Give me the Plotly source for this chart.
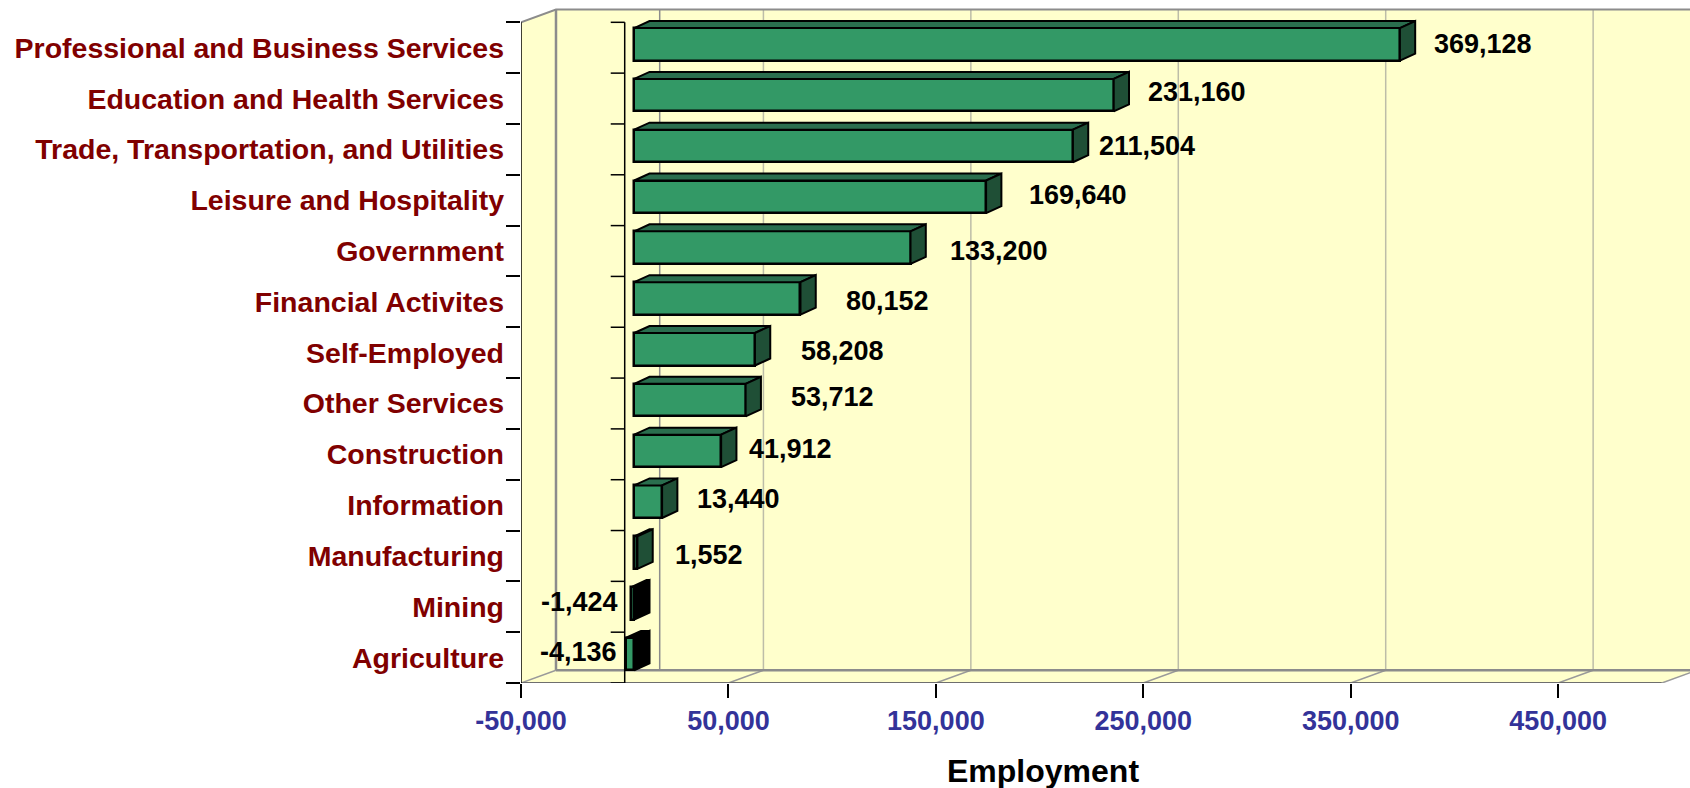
import plotly.graph_objects as go

categories = ["Agriculture", "Mining", "Manufacturing", "Information", "Construction",
              "Other Services", "Self-Employed", "Financial Activites", "Government",
              "Leisure and Hospitality", "Trade, Transportation, and Utilities",
              "Education and Health Services", "Professional and Business Services"]
values = [-4136, -1424, 1552, 13440, 41912, 53712, 58208, 80152, 133200, 169640, 211504, 231160, 369128]
tick_values = [-50000, 50000, 150000, 250000, 350000, 450000]
tick_labels = ["-50,000", "50,000", "150,000", "250,000", "350,000", "450,000"]
grid_values = [-50000, 0, 50000, 150000, 250000, 350000, 450000]

# value-label placement nudges in pixels (same order as categories)
label_dx = [3, -2, 45, 42.6, 35, 52.5, 53.2, 52.7, 47.4, 50.5, 33.7, 41.3, 41.8]
label_dy = [6, 5, 0.7, 6, 5.7, 6.6, 2, 1, 0, 5, 3.8, 7, 3.5]

W, H = 1690, 788
LEFT, BOTTOM_PX, TOP_PX = 520.6, 682.7, 4.0
PX_PER_UNIT_X = 0.002075
PX_PER_ROW = 50.8
XMIN = -50000
XEND = XMIN + (W - LEFT) / PX_PER_UNIT_X
YEND = (BOTTOM_PX - TOP_PX) / PX_PER_ROW
XFLOOR = 500000
ux = lambda px: px / PX_PER_UNIT_X
uy = lambda px: px / PX_PER_ROW

WALL_DX, WALL_DY = ux(35), uy(12.8)
BAR_DX, BAR_DY = ux(9.5), uy(3.4)
DEP_DX, DEP_DY = ux(15.3), uy(7)
BAR_H = uy(32.5)
N = len(categories)

FRONT, TOP, SIDE = "#339966", "#2A6E4E", "#1F4F36"
WALL = "#FFFFCC"

shapes = []
def poly(pts, fill=None, color=None, width=0):
    path = "M " + " L ".join(f"{x},{y}" for x, y in pts) + (" Z" if fill else "")
    shapes.append(dict(type="path", path=path, xref="x", yref="y", layer="below",
                       fillcolor=fill or "rgba(0,0,0,0)",
                       line=dict(color=color or "rgba(0,0,0,0)", width=width)))

# back wall, side wall, floor
poly([(XMIN + WALL_DX, WALL_DY), (XFLOOR + WALL_DX, WALL_DY), (XFLOOR + WALL_DX, N + WALL_DY), (XMIN + WALL_DX, N + WALL_DY)], fill=WALL)
poly([(XMIN, 0), (XMIN + WALL_DX, WALL_DY), (XMIN + WALL_DX, N + WALL_DY), (XMIN, N)], fill=WALL)
poly([(XMIN, 0), (XFLOOR, 0), (XFLOOR + WALL_DX, WALL_DY), (XMIN + WALL_DX, WALL_DY)], fill=WALL)

# wall gridlines and floor diagonals
for g in grid_values:
    col = "#8C8C8C" if g <= 0 else "#BDBDA8"
    wid = 2.5 if g == XMIN else 1.5
    poly([(g + WALL_DX, WALL_DY), (g + WALL_DX, N + WALL_DY)], color=col, width=wid)
    if g != 0:
        poly([(g, 0), (g + WALL_DX, WALL_DY)], color="#9A9A9A", width=1.5)
poly([(XMIN, N), (XMIN + WALL_DX, N + WALL_DY), (XFLOOR + WALL_DX, N + WALL_DY)], color="#8C8C8C", width=2)
poly([(XMIN + WALL_DX, WALL_DY), (XFLOOR + WALL_DX, WALL_DY)], color="#8C8C8C", width=2.5)
poly([(XMIN, 0), (XFLOOR, 0)], color="#6E6E6E", width=2)
poly([(XFLOOR, 0), (XFLOOR + WALL_DX, WALL_DY)], color="#9A9A9A", width=1.5)

# black axes on the front plane
poly([(XMIN, 0), (XMIN, N)], color="black", width=1.5)
poly([(0, 0), (0, N)], color="black", width=1.5)
for i in range(N + 1):
    poly([(-ux(14), i), (0, i)], color="black", width=1.5)

fig = go.Figure()
ys = [i + 0.5 + BAR_DY for i in range(N)]
fig.add_trace(go.Bar(y=ys, x=values, base=[BAR_DX] * N, orientation="h", width=BAR_H,
                     marker=dict(color=FRONT, line=dict(color="black", width=2.5)),
                     showlegend=False, hoverinfo="skip"))

for y, v in zip(ys, values):
    x0, x1 = BAR_DX + min(v, 0), BAR_DX + max(v, 0)
    yb, yt = y - BAR_H / 2, y + BAR_H / 2
    neg = v < 0
    fig.add_trace(go.Scatter(
        x=[x0, x1, x1 + DEP_DX, x0 + DEP_DX, x0], y=[yt, yt, yt + DEP_DY, yt + DEP_DY, yt],
        mode="lines", fill="toself", fillcolor="black" if neg else TOP,
        line=dict(color="black", width=2), showlegend=False, hoverinfo="skip", cliponaxis=False))
    fig.add_trace(go.Scatter(
        x=[x1, x1 + DEP_DX, x1 + DEP_DX, x1, x1], y=[yb, yb + DEP_DY, yt + DEP_DY, yt, yb],
        mode="lines", fill="toself", fillcolor="black" if neg else SIDE,
        line=dict(color="black", width=2), showlegend=False, hoverinfo="skip", cliponaxis=False))

annotations = []
for i, v in enumerate(values):
    annotations.append(dict(x=v, y=i + 0.5, xref="x", yref="y", text=f"{v:,}", showarrow=False,
                            xanchor="right" if v < 0 else "left", yanchor="middle",
                            xshift=label_dx[i], yshift=label_dy[i],
                            font=dict(family="Liberation Sans", size=27, color="black", weight="bold")))
annotations.append(dict(x=(1043 - 520.6) / PX_PER_UNIT_X + XMIN, y=0, xref="x", yref="y", yanchor="middle",
                        yshift=-88, text="Employment", showarrow=False,
                        font=dict(family="Liberation Sans", size=32, color="black", weight="bold")))

fig.update_layout(
    width=W, height=H, margin=dict(l=LEFT, r=0, t=TOP_PX, b=H - BOTTOM_PX, autoexpand=False),
    paper_bgcolor="white", plot_bgcolor="white", shapes=shapes, annotations=annotations,
    bargap=0, showlegend=False,
    xaxis=dict(range=[XMIN, XEND], tickvals=tick_values, ticktext=tick_labels, ticks="outside", ticklen=14,
               tickcolor="black", tickwidth=1.5, showgrid=False, zeroline=False, showline=False,
               tickfont=dict(family="Liberation Sans", size=27, color="#333399", weight="bold")),
    yaxis=dict(range=[0, YEND], tickmode="array", tickvals=[i + 0.5 for i in range(N)], ticktext=categories,
               ticks="", ticklen=0, ticklabelstandoff=16, showgrid=False, zeroline=False, showline=False,
               minor=dict(tickmode="array", tickvals=list(range(N + 1)), ticks="outside", ticklen=14,
                          tickcolor="black", tickwidth=1.5, showgrid=False),
               tickfont=dict(family="Liberation Sans", size=28.5, color="#800000", weight="bold")),
)
fig.write_html("out.html", config={"displayModeBar": False}, post_script="document.body.style.margin='0';")
